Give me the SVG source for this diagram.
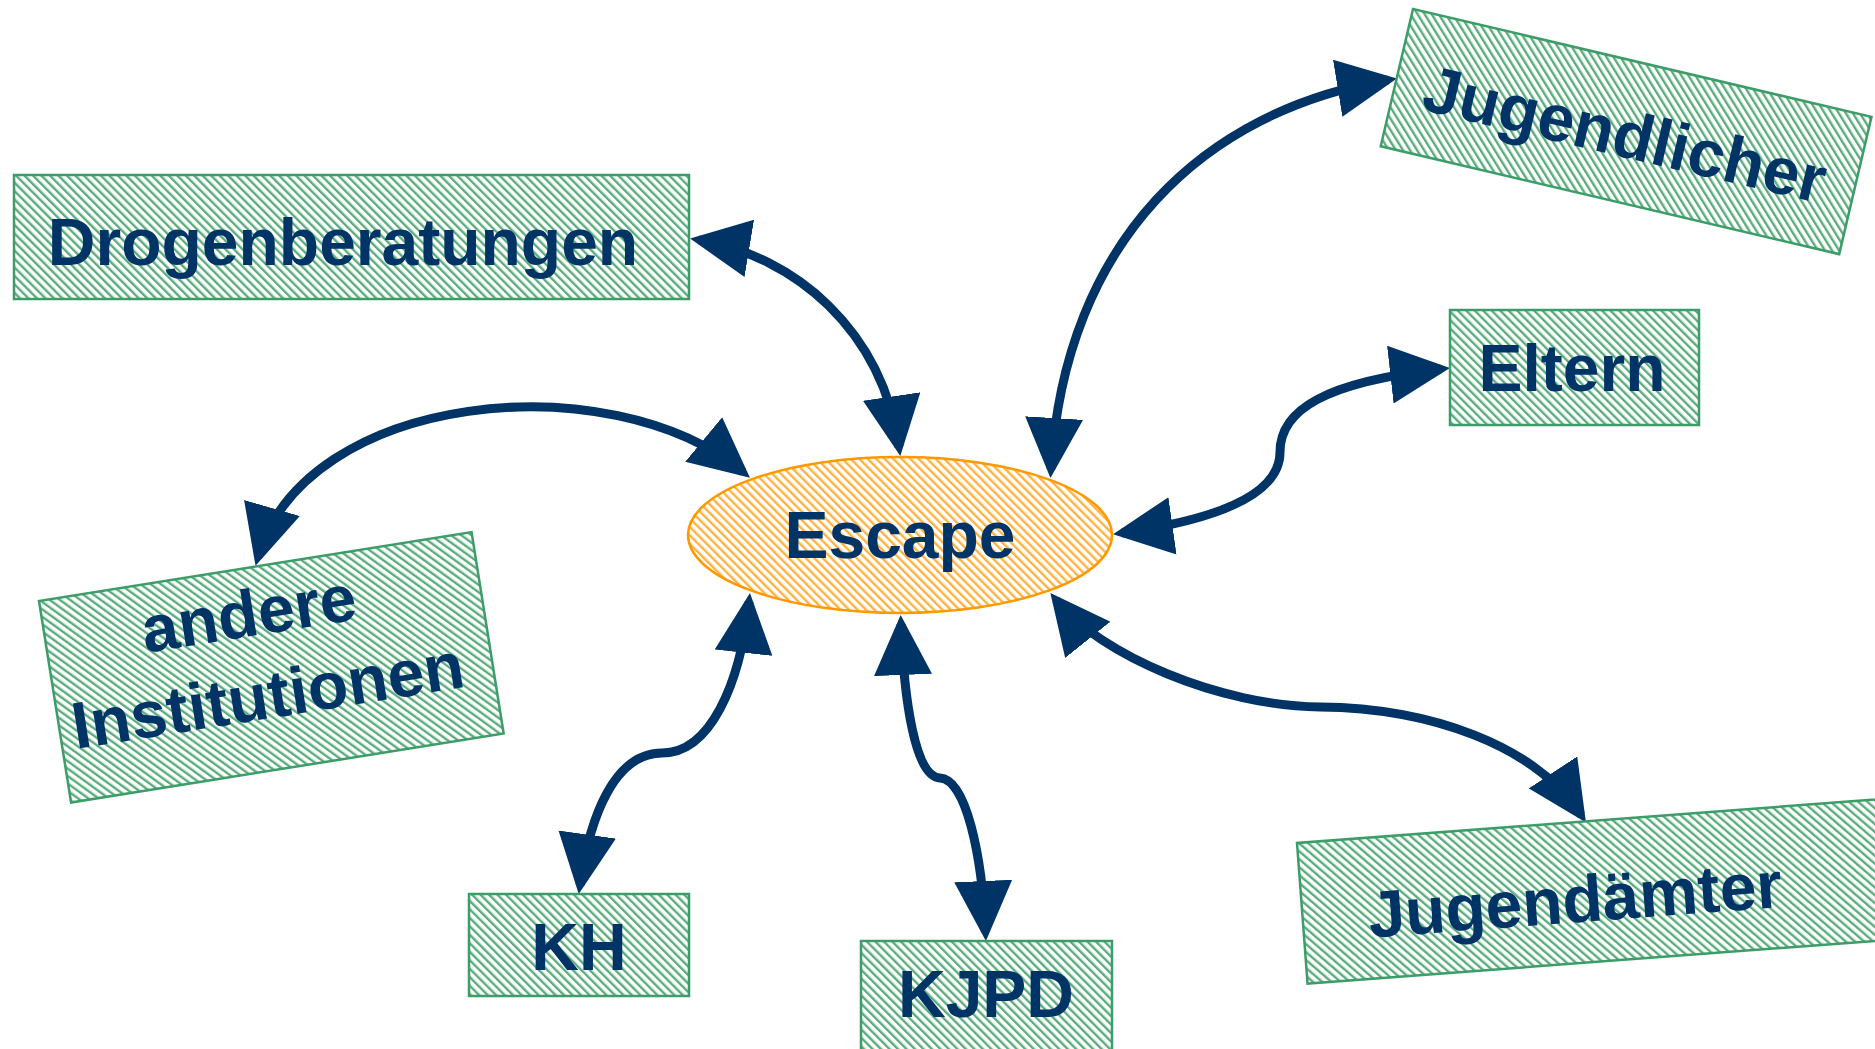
<svg xmlns="http://www.w3.org/2000/svg" width="1875" height="1049" viewBox="0 0 1875 1049">
<defs>
<pattern id="hatchG" width="6" height="6" patternUnits="userSpaceOnUse" patternTransform="rotate(-45)">
<rect width="6" height="6" fill="#ffffff"/>
<rect width="2.4" height="6" fill="#5aac7c"/>
</pattern>
<pattern id="hatchO" width="6" height="6" patternUnits="userSpaceOnUse" patternTransform="rotate(-45)">
<rect width="6" height="6" fill="#ffffff"/>
<rect width="2.4" height="6" fill="#ffb23f"/>
</pattern>
<marker id="arr" viewBox="0 0 60 58" refX="51" refY="29" markerWidth="60" markerHeight="58" markerUnits="userSpaceOnUse" orient="auto-start-reverse">
<path d="M0,0 L60,29 L0,58 z" fill="#003366"/>
</marker>
</defs>
<style>
.box{fill:url(#hatchG);stroke:#3d9d68;stroke-width:2.5}
.ell{fill:url(#hatchO);stroke:#ff9900;stroke-width:2.5}
.lbl{font-family:"Liberation Sans",Arial,sans-serif;font-weight:bold;font-size:66px;fill:#003366;text-anchor:middle}
.con{fill:none;stroke:#003366;stroke-width:9;marker-start:url(#arr);marker-end:url(#arr)}
</style>
<rect width="1875" height="1049" fill="#ffffff"/>

<g id="connectors">
<path class="con" d="M699,240 C795,256 882,330 899,447"/>
<path class="con" d="M258,557 C305,392 610,362 743,472"/>
<path class="con" d="M1388,80 C1205,110 1065,240 1051,469"/>
<path class="con" d="M1441,369 C1325,382 1280,410 1280,452 C1280,500 1200,522 1122,533"/>
<path class="con" d="M1056,600 C1100,655 1220,706 1320,707 C1430,708 1535,745 1581,815"/>
<path class="con" d="M749,602 C740,685 710,753 662,753 C615,753 590,815 580,885"/>
<path class="con" d="M901,624 C904,700 915,777 940,778 C966,779 982,855 985.5,932"/>
</g>

<g id="escape">
<ellipse class="ell" cx="900" cy="535" rx="212" ry="78"/>
<text class="lbl" x="900" y="558">Escape</text>
</g>

<g id="drogenberatungen">
<rect class="box" x="14" y="175" width="675" height="124"/>
<text class="lbl" x="343" y="265">Drogenberatungen</text>
</g>

<g id="jugendlicher" transform="translate(1413,9) rotate(13.24)">
<rect class="box" x="0" y="0" width="471" height="141"/>
<text class="lbl" x="235" y="96">Jugendlicher</text>
</g>

<g id="eltern">
<rect class="box" x="1450" y="310" width="249" height="115"/>
<text class="lbl" x="1572" y="391">Eltern</text>
</g>

<g id="andere-institutionen" transform="translate(39,601) rotate(-9.05)">
<rect class="box" x="0" y="0" width="438" height="204"/>
<text class="lbl"><tspan x="205" y="68">andere</tspan><tspan x="211" y="152">Institutionen</tspan></text>
</g>

<g id="kh">
<rect class="box" x="469" y="894" width="220" height="102"/>
<text class="lbl" x="579" y="970">KH</text>
</g>

<g id="kjpd">
<rect class="box" x="861" y="941" width="251" height="130"/>
<text class="lbl" x="986" y="1017">KJPD</text>
</g>

<g id="jugendaemter" transform="translate(1297,843) rotate(-4.3)">
<rect class="box" x="0" y="0" width="620" height="141"/>
<text class="lbl" x="273" y="100">Jugendämter</text>
</g>
</svg>
